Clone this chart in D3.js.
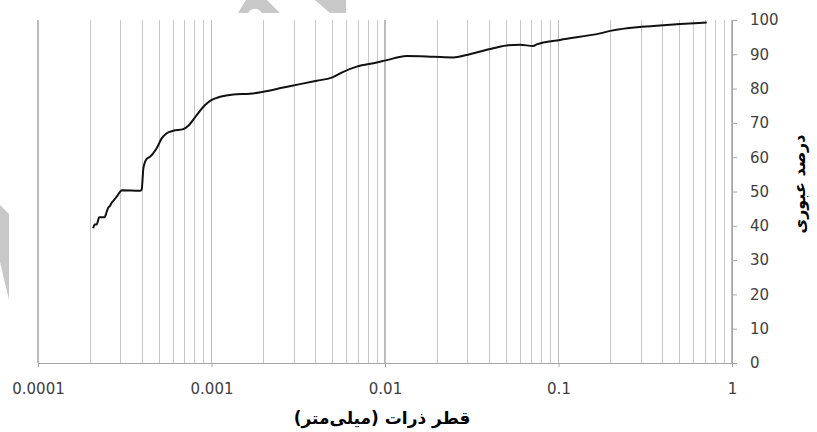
<!DOCTYPE html>
<html>
<head>
<meta charset="utf-8">
<script src="https://cdn.jsdelivr.net/npm/d3@7"></script>
<style>
  body { margin: 0; background: #fff; }
  svg { display: block; }
</style>
</head>
<body>
<svg id="chart" width="817" height="432"></svg>
<script>
// grain size (mm) and percent passing
const sizes = [0.000208, 0.000212, 0.000218, 0.000221, 0.000225, 0.000231, 0.000242, 0.000249,
  0.000254, 0.000260, 0.000266, 0.000272, 0.000278, 0.000287, 0.000297, 0.000304, 0.000387,
  0.000396, 0.000405, 0.000423, 0.000442, 0.000462, 0.000483, 0.000516, 0.000552, 0.000602,
  0.000688, 0.000735, 0.000822, 0.000918, 0.001003, 0.001119, 0.001336, 0.001667, 0.001989,
  0.002594, 0.003236, 0.00404, 0.00493, 0.00575, 0.00687, 0.00896, 0.01023, 0.01334, 0.01898,
  0.02476, 0.02958, 0.03857, 0.05029, 0.0600, 0.07158, 0.07489, 0.1020, 0.1735, 0.2026, 0.3016,
  0.4018, 0.5016, 0.7148];
const passing = [39.3, 40.4, 40.4, 41.2, 42.5, 42.5, 42.5, 44.1,
  45.3, 45.8, 46.7, 47.3, 47.9, 48.8, 49.9, 50.4, 50.2,
  50.6, 56.8, 59.5, 60.1, 61.2, 62.6, 65.5, 67.0, 67.7,
  68.2, 69.2, 72.3, 75.2, 76.7, 77.6, 78.3, 78.5, 79.1,
  80.3, 81.3, 82.3, 83.2, 84.9, 86.4, 87.6, 88.3, 89.5, 89.3,
  89.1, 89.8, 91.3, 92.6, 92.8, 92.4, 92.9, 94.2, 96.1, 96.9, 98.0,
  98.5, 98.8, 99.3];

const xTickLabels = ["0.0001", "0.001", "0.01", "0.1", "1"];
const xTickValues = [0.0001, 0.001, 0.01, 0.1, 1];
const yTicks = [0, 10, 20, 30, 40, 50, 60, 70, 80, 90, 100];
const xTitle = "قطر ذرات (میلی‌متر)";
const yTitle = "درصد عبوری";

const svg = d3.select("#chart");

// plot box
const plotLeft = 38, plotRight = 732, plotTop = 20, plotBottom = 363;

const x = d3.scaleLog().domain([0.0001, 1]).range([plotLeft, plotRight]);
const y = d3.scaleLinear().domain([0, 100]).range([plotBottom, plotTop]);

// grey watermark bits
const wm = svg.append("g").attr("fill", "#c8c8c8");
wm.append("path").attr("d", "M238,13 L246,0 L267,0 L280,13 L262,13 C258,8 252,7 248,13 Z");
wm.append("path").attr("d", "M315,0 L346,0 L346,13 L330,13 Z");
wm.append("path").attr("d", "M0,205 L9,214 L9,300 L0,262 Z");

// vertical grid (log minor lines)
const gridVals = x.ticks();
svg.append("g")
  .selectAll("line")
  .data(gridVals)
  .join("line")
  .attr("x1", d => x(d)).attr("x2", d => x(d))
  .attr("y1", plotTop).attr("y2", plotBottom)
  .attr("stroke", d => xTickValues.includes(d) ? "#bcbcbc" : "#c8c8c8")
  .attr("stroke-width", d => xTickValues.includes(d) ? 1.3 : 1)
  .attr("shape-rendering", "crispEdges");

// x axis
const xAxis = svg.append("g")
  .attr("transform", `translate(0,${plotBottom})`)
  .call(d3.axisBottom(x).tickValues(xTickValues)
    .tickFormat((d, i) => xTickLabels[i]).tickSize(4).tickPadding(16));
xAxis.select(".domain").attr("stroke", "#a6a6a6");
xAxis.selectAll(".tick line").attr("stroke", "#a6a6a6");
xAxis.selectAll("text")
  .attr("font-family", "DejaVu Sans, Verdana, sans-serif")
  .attr("font-size", 15)
  .attr("fill", "#404040");

// y axis on the right
const yAxis = svg.append("g")
  .attr("transform", `translate(${plotRight},0)`)
  .call(d3.axisRight(y).tickValues(yTicks).tickSize(5).tickPadding(13).tickSizeOuter(0));
yAxis.select(".domain").attr("stroke", "#a6a6a6").attr("d", `M0.5,${plotTop}V${plotBottom + 4}`);
yAxis.selectAll(".tick line").attr("stroke", "#a6a6a6");
yAxis.selectAll("text")
  .attr("font-family", "DejaVu Sans, Verdana, sans-serif")
  .attr("font-size", 15)
  .attr("fill", "#404040");

// gradation curve
const pts = sizes.map((s, i) => [s, passing[i]]);
svg.append("path")
  .datum(pts)
  .attr("fill", "none")
  .attr("stroke", "#111")
  .attr("stroke-width", 2)
  .attr("stroke-linejoin", "round")
  .attr("d", d3.line().x(d => x(d[0])).y(d => y(d[1])).curve(d3.curveMonotoneX));

// titles
svg.append("text")
  .attr("x", 382).attr("y", 424)
  .attr("text-anchor", "middle")
  .attr("font-family", "DejaVu Sans, sans-serif")
  .attr("font-weight", "bold")
  .attr("font-size", 17)
  .attr("direction", "rtl")
  .text(xTitle);

svg.append("text")
  .attr("transform", "translate(805,184) rotate(-90)")
  .attr("text-anchor", "middle")
  .attr("font-family", "DejaVu Sans, sans-serif")
  .attr("font-weight", "bold")
  .attr("font-size", 16)
  .attr("direction", "rtl")
  .text(yTitle);
</script>
</body>
</html>
